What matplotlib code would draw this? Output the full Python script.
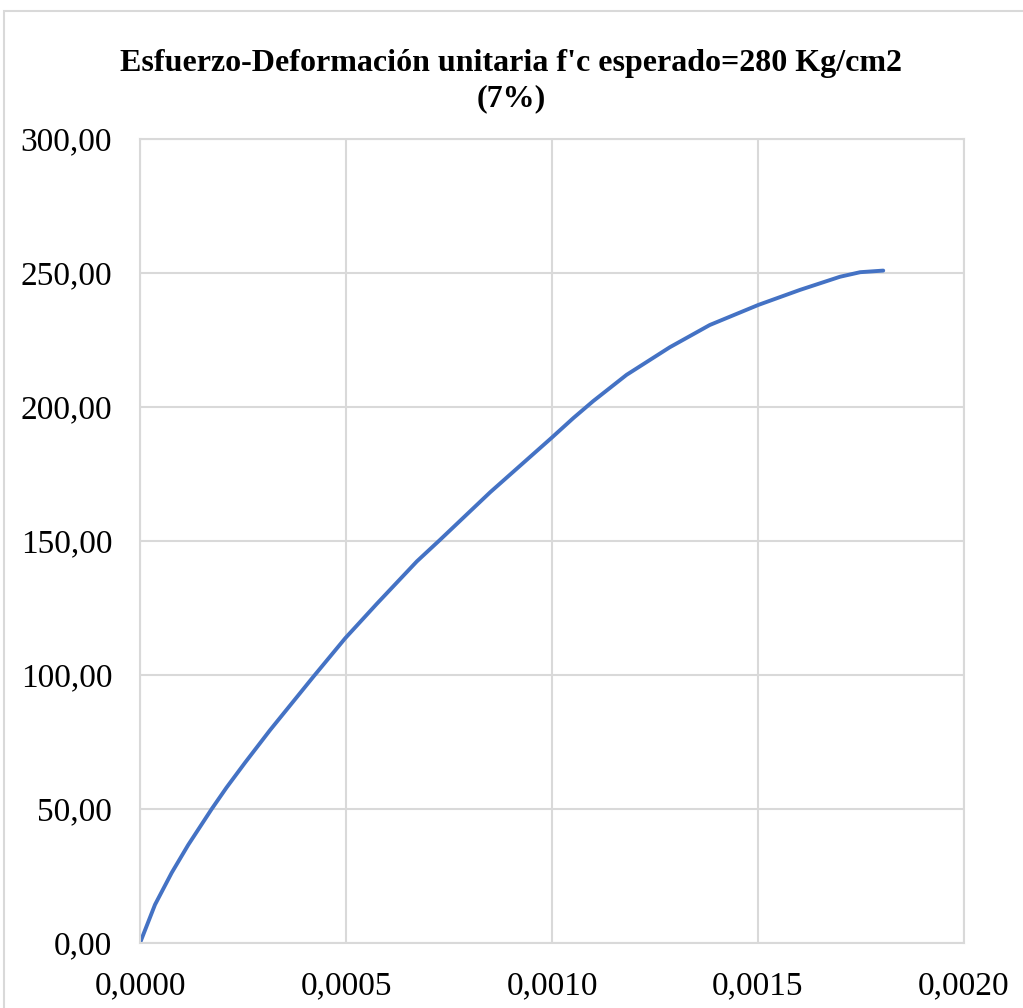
import numpy as np
import matplotlib.pyplot as plt
from matplotlib.ticker import FuncFormatter
from matplotlib.patches import Rectangle

# datos
deformacion = [0.0, 0.0000364, 0.0000769, 0.000117, 0.000174, 0.000210, 0.000255,
               0.000316, 0.000421, 0.000498, 0.000575, 0.000672, 0.000728,
               0.000850, 0.000999, 0.001052, 0.001100, 0.001181, 0.001286,
               0.001383, 0.001501, 0.001602, 0.001699, 0.001748, 0.001804]
esfuerzo = [0.0, 14.3, 26.2, 36.6, 50.0, 58.0, 67.3,
            79.5, 99.4, 113.7, 126.6, 142.4, 150.4,
            168.2, 188.5, 195.9, 202.2, 212.0, 222.3,
            230.6, 238.1, 243.7, 248.6, 250.3, 250.9]

x_ticks = [0.0, 0.0005, 0.0010, 0.0015, 0.0020]
y_ticks = [0, 50, 100, 150, 200, 250, 300]

plt.rcParams['font.family'] = 'Liberation Serif'

fig = plt.figure(figsize=(10.23, 10.08), dpi=100)
ax = fig.add_axes([140/1023, 1-943/1008, 824/1023, 804/1008])

ax.plot(deformacion, esfuerzo, color='#4472C4', lw=2.8,
        solid_capstyle='round', solid_joinstyle='round')

ax.set_xlim(0, 0.002)
ax.set_ylim(0, 300)
ax.set_xticks(x_ticks)
ax.set_yticks(y_ticks)
ax.xaxis.set_major_formatter(FuncFormatter(lambda v, p: f'{v:.4f}'.replace('.', ',')))
ax.yaxis.set_major_formatter(FuncFormatter(lambda v, p: f'{v:.2f}'.replace('.', ',')))
ax.tick_params(length=0, labelsize=24, colors='black')
ax.tick_params(axis='y', pad=20)
ax.tick_params(axis='x', pad=20)
ax.grid(True, color='#D9D9D9', lw=1.5)
for s in ax.spines.values():
    s.set_color('#D9D9D9')
    s.set_linewidth(1.5)
ax.set_axisbelow(True)

fig.text(0.5, 1-81/1008, "Esfuerzo-Deformación unitaria f'c esperado=280 Kg/cm2\n(7%)",
         ha='center', va='center', fontsize=23, fontweight='bold', linespacing=1.25)

fig.patches.append(Rectangle((4/1023, -0.01), 1.02, 1-11/1008+0.01, transform=fig.transFigure,
                             fill=False, ec='#D9D9D9', lw=1.5))

fig.savefig('out.png', dpi=100)
